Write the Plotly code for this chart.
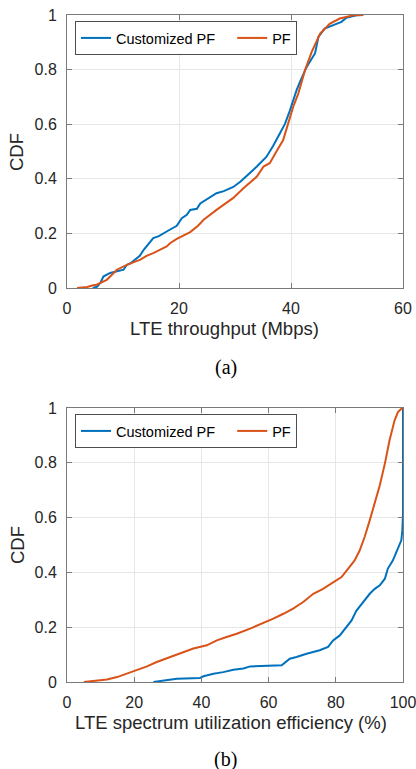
import plotly.graph_objects as go

# ---- Data: (a) LTE throughput (Mbps) CDF ----
a_custom_x = [4.6, 5.4, 6.0, 6.5, 7.7, 9.0, 10.1, 10.7, 11.3, 13.0, 13.7, 15.4, 16.4, 17.8, 19.6, 20.5,
              21.4, 22.0, 23.2, 23.8, 25.5, 26.7, 28.0, 29.7, 31.0, 32.1, 33.9, 35.6, 36.8, 38.0,
              38.9, 39.8, 40.4, 41.0, 41.6, 42.8, 44.3, 44.9, 46.0, 47.5, 49.0, 49.9, 51.7, 52.9]
a_custom_y = [0.0, 0.005, 0.02, 0.042, 0.055, 0.06, 0.067, 0.085, 0.09, 0.118, 0.14, 0.183, 0.19, 0.207, 0.228, 0.256,
              0.268, 0.286, 0.29, 0.31, 0.33, 0.347, 0.355, 0.37, 0.39, 0.41, 0.445, 0.48, 0.52, 0.566,
              0.6, 0.65, 0.69, 0.725, 0.755, 0.81, 0.86, 0.92, 0.95, 0.962, 0.975, 0.99, 0.999, 1.0]

a_pf_x = [1.8, 3.6, 4.7, 5.3, 7.1, 8.9, 10.7, 13.1, 14.2, 15.4, 17.8, 18.4, 19.6, 20.8, 22.0, 23.4, 24.4,
          26.7, 29.7, 31.5, 33.9, 35.1, 36.2, 37.4, 38.6, 39.5, 40.4, 41.3, 42.5, 43.7, 45.2,
          46.9, 48.7, 51.1, 52.9]
a_pf_y = [0.0, 0.004, 0.01, 0.012, 0.03, 0.067, 0.085, 0.104, 0.118, 0.128, 0.152, 0.164, 0.18, 0.191, 0.205, 0.228, 0.25,
          0.286, 0.33, 0.365, 0.408, 0.445, 0.457, 0.5, 0.542, 0.603, 0.664, 0.712, 0.798, 0.865, 0.932,
          0.968, 0.987, 0.999, 1.0]

# ---- Data: (b) LTE spectrum utilization efficiency (%) CDF ----
b_custom_x = [25.7, 29.7, 32.7, 39.6, 40.6, 43.6, 46.5, 49.5, 52.5, 54.5, 59.4, 63.9, 66.3, 68.3,
              71.3, 75.2, 77.7, 79.2, 81.2, 83.2, 84.7, 86.1, 88.1, 90.1, 91.6, 93.1, 94.6, 95.5,
              97.0, 98.5, 99.5, 99.8, 100.0, 100.0]
b_custom_y = [0.0, 0.006, 0.012, 0.015, 0.021, 0.03, 0.036, 0.045, 0.049, 0.057, 0.058, 0.061, 0.085, 0.091,
              0.103, 0.116, 0.128, 0.152, 0.17, 0.2, 0.225, 0.26, 0.292, 0.322, 0.34, 0.353, 0.377, 0.414,
              0.444, 0.487, 0.517, 0.553, 0.614, 1.0]

b_pf_x = [5.0, 7.9, 11.9, 14.9, 17.8, 20.8, 23.8, 26.7, 30.7, 33.7, 37.6, 41.6, 44.6, 47.5, 50.5,
          54.5, 58.4, 61.4, 64.4, 67.3, 70.3, 73.3, 76.2, 79.2, 81.7, 83.7, 85.6, 87.1, 88.6,
          90.1, 91.6, 93.1, 94.6, 96.0, 97.5, 98.5, 99.5, 100.0]
b_pf_y = [0.0, 0.004, 0.009, 0.018, 0.03, 0.043, 0.057, 0.073, 0.091, 0.103, 0.122, 0.134, 0.152, 0.164, 0.176,
          0.195, 0.215, 0.231, 0.249, 0.268, 0.292, 0.322, 0.34, 0.365, 0.383, 0.414, 0.444, 0.48, 0.53,
          0.59, 0.65, 0.718, 0.797, 0.882, 0.955, 0.985, 0.997, 1.0]

y_ticks = [0, 0.2, 0.4, 0.6, 0.8, 1]
y_tick_text = ["0", "0.2", "0.4", "0.6", "0.8", "1"]
a_x_ticks = [0, 20, 40, 60]
b_x_ticks = [0, 20, 40, 60, 80, 100]

BLUE = "#0072BD"
ORANGE = "#D95319"
SANS = "Liberation Sans, Arial, Helvetica, sans-serif"
SERIF = "Liberation Serif, Times New Roman, serif"
TXT = "#262626"

W, H = 416, 769
x0, x1 = 67 / W, 403 / W
a_dom = [1 - 288 / H, 1 - 15 / H]
b_dom = [1 - 682 / H, 1 - 408 / H]

NB = "\u00a0"
fig = go.Figure()
fig.add_trace(go.Scatter(x=a_custom_x, y=a_custom_y, mode="lines", name="Customized PF" + NB * 3,
                         line=dict(color=BLUE, width=2), xaxis="x", yaxis="y", legend="legend"))
fig.add_trace(go.Scatter(x=a_pf_x, y=a_pf_y, mode="lines", name="PF",
                         line=dict(color=ORANGE, width=2), xaxis="x", yaxis="y", legend="legend"))
fig.add_trace(go.Scatter(x=b_custom_x, y=b_custom_y, mode="lines", name="Customized PF" + NB * 3,
                         line=dict(color=BLUE, width=2), xaxis="x2", yaxis="y2", legend="legend2"))
fig.add_trace(go.Scatter(x=b_pf_x, y=b_pf_y, mode="lines", name="PF",
                         line=dict(color=ORANGE, width=2), xaxis="x2", yaxis="y2", legend="legend2"))

axis_common = dict(showline=True, linecolor="#7a7a7a", linewidth=1, mirror="ticks",
                   ticks="inside", ticklen=5, tickcolor="#7a7a7a", automargin=False,
                   showgrid=True, gridcolor="#e6e6e6", gridwidth=1, zeroline=False,
                   ticklabeloverflow="allow",
                   tickfont=dict(family=SANS, size=16, color=TXT))

legend_common = dict(orientation="h", x=75 / W, xanchor="left", yanchor="top",
                     bgcolor="white", bordercolor="#4d4d4d", borderwidth=1,
                     font=dict(family=SANS, size=14.5, color="#000000"),
                     itemwidth=30, tracegroupgap=0)

fig.update_layout(
    width=W, height=H, margin=dict(l=0, r=0, t=0, b=0, autoexpand=False),
    paper_bgcolor="white", plot_bgcolor="white",
    font=dict(family=SANS, color=TXT),
    xaxis=dict(domain=[x0, x1], range=[0, 60], tickvals=a_x_ticks, anchor="y",
               ticklabelstandoff=6, **axis_common),
    yaxis=dict(domain=a_dom, range=[0, 1], tickvals=y_ticks, ticktext=y_tick_text, anchor="x",
               ticklabelstandoff=6, **axis_common),
    xaxis2=dict(domain=[x0, x1], range=[0, 100], tickvals=b_x_ticks, anchor="y2",
                ticklabelstandoff=6, **axis_common),
    yaxis2=dict(domain=b_dom, range=[0, 1], tickvals=y_ticks, ticktext=y_tick_text, anchor="x2",
                ticklabelstandoff=6, **axis_common),
    legend=dict(y=1 - 21 / H, **legend_common),
    legend2=dict(y=1 - 414 / H, **legend_common),
    showlegend=True,
)


def note(text, px, py, size, family=SANS, color=TXT, angle=0):
    fig.add_annotation(text=text, x=px / W, y=1 - py / H, xref="paper", yref="paper",
                       xanchor="center", yanchor="middle", textangle=angle,
                       showarrow=False, font=dict(family=family, size=size, color=color))


# axis titles
note("LTE throughput (Mbps)", 224, 329, 18.5)
note("CDF", 17, 152, 18.5, angle=-90)
note("LTE spectrum utilization efficiency (%)", 231, 722, 18.5)
note("CDF", 17, 545, 18.5, angle=-90)

# captions
note("(a)", 226, 367, 20, family=SERIF, color="#000000")
note("(b)", 226, 759, 20, family=SERIF, color="#000000")

fig.write_html("out.html", config={"displayModeBar": False},
               post_script="document.body.style.margin='0';document.body.style.overflow='hidden';")
